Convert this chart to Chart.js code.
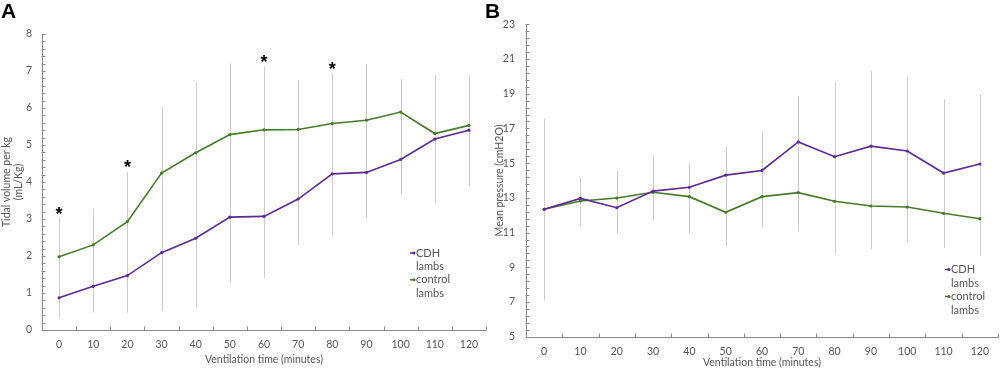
<!DOCTYPE html>
<html><head><meta charset="utf-8">
<script src="https://cdn.jsdelivr.net/npm/chart.js@4.4.1/dist/chart.umd.min.js"></script>
<style>
html,body{margin:0;padding:0;background:#fff;width:1002px;height:369px;overflow:hidden}
#ca{position:absolute;left:0;top:0}
#cb{position:absolute;left:480px;top:0}
</style></head><body>
<canvas id="ca" width="490" height="369"></canvas>
<canvas id="cb" width="522" height="369"></canvas>
<script>
// ---------- data ----------
const categories = ['0','10','20','30','40','50','60','70','80','90','100','110','120'];

// Panel A: tidal volume per kg (mL/Kg)
const aCDH     = [0.87, 1.18, 1.47, 2.09, 2.48, 3.05, 3.07, 3.54, 4.22, 4.26, 4.61, 5.16, 5.40];
const aControl = [1.98, 2.30, 2.93, 4.24, 4.79, 5.28, 5.41, 5.42, 5.58, 5.67, 5.89, 5.31, 5.53];
const aErrLow  = [0.34, 0.47, 0.47, 0.50, 0.60, 1.26, 1.40, 2.30, 2.55, 3.04, 3.67, 3.42, 3.90];
const aErrHigh = [3.02, 3.29, 4.28, 6.03, 6.68, 7.20, 7.12, 6.76, 6.94, 7.19, 6.78, 6.89, 6.89];
const aStars   = [0, 2, 6, 8];   // category indices marked with *

// Panel B: mean pressure (cmH2O)
const bCDH     = [12.34, 12.97, 12.43, 13.39, 13.61, 14.31, 14.58, 16.22, 15.37, 15.98, 15.70, 14.43, 14.95];
const bControl = [12.34, 12.82, 12.99, 13.32, 13.07, 12.17, 13.07, 13.30, 12.80, 12.53, 12.47, 12.11, 11.80];
const bErrLow  = [7.07, 11.39, 10.96, 11.68, 10.96, 10.22, 11.30, 11.05, 9.80, 10.05, 10.47, 10.13, 9.65];
const bErrHigh = [17.58, 14.18, 14.60, 15.47, 14.99, 15.94, 16.85, 18.87, 19.63, 20.32, 19.98, 18.69, 18.94];

const seriesNames = [['CDH','lambs'], ['control','lambs']];
const xTitle = 'Ventilation time (minutes)';
const aYTitle = ['Tidal volume per kg', '(mL/Kg)'];
const bYTitle = 'Mean pressure (cmH2O)';

// ---------- styles ----------
const PURPLE = '#5c2a92';
const GREEN = '#477a2b';
const TXT = '#555555';
const AXIS = '#8a8a8a';
const FONT = 'Lato';

function panelPlugin(cfg) {
  return {
    id: 'panel',
    beforeDatasetsDraw(chart) {
      const ctx = chart.ctx, xs = chart.scales.x, ys = chart.scales.y, ca = chart.chartArea;
      ctx.save();
      // error bars
      ctx.strokeStyle = '#cccccc';
      ctx.lineWidth = 1;
      cfg.errLow.forEach((lo, i) => {
        const px = Math.round(xs.getPixelForValue(i)) + 0.5;
        ctx.beginPath();
        ctx.moveTo(px, ys.getPixelForValue(lo));
        ctx.lineTo(px, ys.getPixelForValue(cfg.errHigh[i]));
        ctx.stroke();
      });
      // axes
      const L = Math.round(ca.left) + 0.5, B = Math.round(ca.bottom) + 0.5;
      ctx.strokeStyle = AXIS;
      ctx.beginPath();
      ctx.moveTo(L, ca.top); ctx.lineTo(L, B); ctx.lineTo(ca.right, B);
      // y ticks (major + minor), inside
      const nMinor = Math.round((ys.max - ys.min) / cfg.minorStep);
      for (let k = 0; k <= nMinor; k++) {
        const v = ys.min + k * cfg.minorStep;
        const py = Math.round(ys.getPixelForValue(v)) + 0.5;
        ctx.moveTo(L - 1, py); ctx.lineTo(L + 3, py);
      }
      // x ticks at category boundaries
      const n = categories.length;
      const sp = xs.getPixelForValue(1) - xs.getPixelForValue(0);
      for (let i = 1; i <= n; i++) {
        const px = Math.round(xs.getPixelForValue(0) - sp / 2 + i * sp) + 0.5;
        ctx.moveTo(px, B); ctx.lineTo(px, B - 4);
      }
      ctx.stroke();
      ctx.restore();
    },
    afterDatasetsDraw(chart) {
      const ctx = chart.ctx, xs = chart.scales.x, ys = chart.scales.y;
      ctx.save();
      // stars
      if (cfg.stars) {
        ctx.fillStyle = '#000';
        ctx.font = 'bold 18px "Liberation Sans"';
        ctx.textAlign = 'center';
        ctx.textBaseline = 'alphabetic';
        cfg.stars.forEach(i => {
          const px = xs.getPixelForValue(i);
          const cy = ys.getPixelForValue(cfg.errHigh[i]) - 9;
          ctx.fillText('*', px, cy + 0.58 * 18);
        });
      }
      // legend
      ctx.font = '11px ' + FONT;
      ctx.textAlign = 'left';
      ctx.textBaseline = 'middle';
      const colors = [PURPLE, GREEN];
      seriesNames.forEach((lines, s) => {
        const y0 = cfg.legY + s * 2 * cfg.legStep;
        ctx.strokeStyle = colors[s];
        ctx.fillStyle = colors[s];
        ctx.lineWidth = 1.5;
        ctx.beginPath();
        ctx.moveTo(cfg.legX - 6, y0); ctx.lineTo(cfg.legX - 1, y0);
        ctx.stroke();
        ctx.beginPath(); ctx.arc(cfg.legX - 2, y0, 1.5, 0, Math.PI * 2); ctx.fill();
        ctx.fillStyle = TXT;
        lines.forEach((t, j) => ctx.fillText(t, cfg.legX, y0 + j * cfg.legStep));
      });
      // panel letter
      ctx.fillStyle = '#000';
      ctx.font = 'bold 21px "Liberation Sans"';
      ctx.textBaseline = 'alphabetic';
      ctx.fillText(cfg.letter, cfg.letterX, 18);
      ctx.restore();
    }
  };
}

function makeChart(canvasId, cdh, ctrl, yCfg, layout, plugCfg) {
  return new Chart(document.getElementById(canvasId), {
    type: 'line',
    data: {
      labels: categories,
      datasets: [
        { label: 'CDH lambs', data: cdh, borderColor: PURPLE, backgroundColor: PURPLE,
          borderWidth: 1.6, pointRadius: 1.6, pointBorderWidth: 0, tension: 0 },
        { label: 'control lambs', data: ctrl, borderColor: GREEN, backgroundColor: GREEN,
          borderWidth: 1.6, pointRadius: 1.6, pointBorderWidth: 0, tension: 0 }
      ]
    },
    options: {
      responsive: false,
      animation: false,
      events: [],
      layout: { padding: layout.padding },
      plugins: { legend: { display: false }, tooltip: { enabled: false } },
      scales: {
        x: {
          type: 'category',
          offset: true,
          grid: { display: false, drawTicks: false },
          border: { display: false },
          ticks: { color: TXT, font: { family: FONT, size: 10.5 }, padding: 8.5,
                   autoSkip: false, maxRotation: 0 },
          title: { display: true, text: xTitle, color: TXT,
                   font: { family: FONT, size: 10.5 }, padding: { top: 0, bottom: layout.xTitlePad } },
          afterFit(s) { s.height = layout.xHeight; }
        },
        y: {
          min: yCfg.min, max: yCfg.max,
          grid: { display: false, drawTicks: false },
          border: { display: false },
          ticks: { stepSize: yCfg.step, color: TXT, font: { family: FONT, size: 10.5 },
                   padding: yCfg.tickPad },
          title: { display: true, text: yCfg.title, color: TXT,
                   font: { family: FONT, size: 10.5 }, padding: { top: yCfg.titlePad, bottom: 0 } },
          afterFit(s) { s.width = layout.yWidth; }
        }
      }
    },
    plugins: [panelPlugin(plugCfg)]
  });
}

makeChart('ca', aCDH, aControl,
  { min: 0, max: 8, step: 1, tickPad: 10, title: aYTitle, titlePad: 0 },
  { padding: { top: 34, left: 0, right: 3.3, bottom: 0 }, xHeight: 39, yWidth: 42, xTitlePad: 2.7 },
  { errLow: aErrLow, errHigh: aErrHigh, minorStep: 0.2, stars: aStars,
    legX: 416, legY: 253, legStep: 13.4, letter: 'A', letterX: 1 });

makeChart('cb', bCDH, bControl,
  { min: 5, max: 23, step: 2, tickPad: 11, title: bYTitle, titlePad: 13 },
  { padding: { top: 24.3, left: 0, right: 2, bottom: 0 }, xHeight: 32.3, yWidth: 46, xTitlePad: 0 },
  { errLow: bErrLow, errHigh: bErrHigh, minorStep: 0.4, stars: null,
    legX: 471, legY: 269.5, legStep: 13.5, letter: 'B', letterX: 5 });
</script>
</body></html>
